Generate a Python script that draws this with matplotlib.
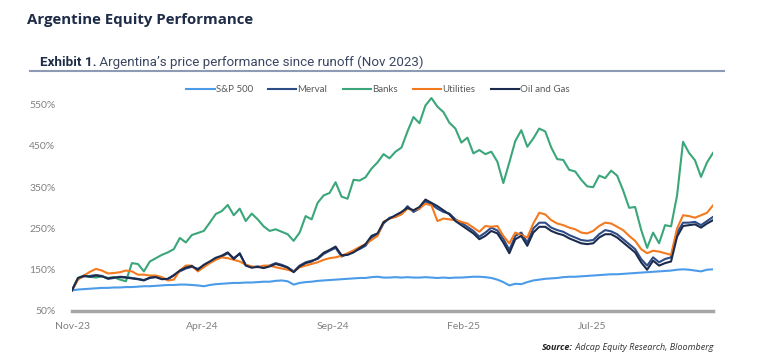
import matplotlib
matplotlib.use("Agg")
import matplotlib.pyplot as plt
import matplotlib.dates as mdates
from matplotlib.lines import Line2D
import pandas as pd

# Weekly observations since the Nov-2023 runoff (index, 100 = start)
start_date = "2023-11-17"

sp500 = [100, 102, 103, 104, 105, 106, 106, 107, 107, 108,
         108, 109, 110, 110, 111, 112, 113, 113, 114, 114,
         113, 112, 110, 113, 115, 116, 117, 118, 118, 119,
         119, 120, 121, 121, 123, 124, 122, 114, 118, 120,
         121, 123, 124, 125, 126, 127, 128, 129, 130, 130,
         132, 133, 131, 131, 132, 131, 132, 131, 131, 132,
         131, 130, 131, 130, 131, 131, 132, 133, 133, 132,
         130, 126, 120, 112, 116, 115, 120, 124, 126, 128,
         129, 130, 132, 133, 133, 134, 135, 136, 137, 138,
         139, 139, 140, 141, 142, 143, 144, 145, 146, 147,
         148, 150, 151, 150, 148, 146, 150, 151]

merval = [101, 128, 134, 135, 137, 135, 128, 130, 133, 132,
          130, 128, 125, 130, 133, 128, 127, 136, 146, 153,
          157, 152, 160, 168, 177, 182, 190, 178, 188, 162,
          156, 158, 155, 160, 166, 162, 156, 146, 160, 168,
          172, 176, 188, 196, 203, 182, 188, 194, 200, 208,
          228, 234, 262, 276, 278, 286, 304, 290, 298, 316,
          308, 298, 290, 286, 272, 264, 254, 244, 230, 240,
          252, 245, 225, 198, 232, 240, 216, 250, 264, 264,
          252, 246, 242, 234, 228, 222, 220, 222, 236, 246,
          243, 236, 224, 212, 200, 176, 160, 180, 168, 176,
          180, 240, 264, 264, 266, 258, 268, 278]

banks = [100, 130, 136, 133, 131, 134, 130, 132, 126, 122,
         166, 164, 146, 170, 178, 186, 192, 200, 227, 216,
         234, 239, 244, 264, 285, 292, 307, 282, 298, 268,
         286, 272, 255, 244, 248, 242, 236, 220, 240, 280,
         272, 312, 330, 336, 362, 327, 322, 368, 366, 374,
         395, 410, 430, 420, 436, 446, 485, 520, 505, 548,
         566, 545, 532, 506, 492, 458, 470, 432, 440, 430,
         436, 412, 360, 410, 462, 488, 448, 468, 492, 485,
         446, 418, 416, 392, 388, 368, 352, 350, 378, 372,
         390, 378, 342, 300, 302, 247, 203, 240, 214, 258,
         255, 330, 460, 433, 415, 375, 410, 433]

utilities = [100, 126, 136, 145, 152, 148, 141, 142, 144, 148,
             146, 138, 138, 136, 136, 132, 124, 126, 148, 160,
             160, 146, 156, 166, 174, 180, 178, 174, 170, 162,
             158, 156, 160, 160, 156, 153, 150, 146, 156, 160,
             164, 168, 174, 178, 180, 184, 190, 197, 205, 212,
             222, 232, 266, 274, 278, 284, 298, 294, 298, 310,
             306, 268, 274, 272, 270, 266, 262, 252, 242, 256,
             254, 256, 232, 214, 240, 234, 228, 262, 288, 284,
             270, 262, 258, 252, 248, 240, 238, 244, 256, 264,
             262, 254, 246, 232, 220, 200, 190, 196, 194, 190,
             186, 250, 282, 280, 276, 282, 288, 306]

oil_gas = [100, 130, 135, 133, 136, 134, 129, 131, 132, 131,
           129, 127, 124, 131, 132, 127, 128, 137, 148, 155,
           159, 150, 162, 170, 179, 184, 192, 176, 190, 160,
           155, 157, 154, 158, 164, 160, 155, 144, 158, 166,
           170, 178, 191, 198, 206, 185, 186, 192, 202, 212,
           232, 238, 265, 274, 282, 290, 300, 294, 302, 320,
           312, 304, 294, 284, 268, 258, 248, 238, 224, 232,
           244, 238, 216, 190, 224, 232, 208, 240, 254, 254,
           244, 238, 234, 226, 220, 214, 212, 214, 228, 236,
           236, 228, 216, 204, 192, 168, 150, 172, 160, 166,
           170, 230, 256, 258, 260, 252, 262, 270]

series_names = ["S&P 500", "Merval", "Banks", "Utilities", "Oil and Gas"]
tick_dates = ["2023-11-17", "2024-04-17", "2024-09-17", "2025-02-17", "2025-07-17"]
y_ticks = [50, 150, 250, 350, 450, 550]

dates = pd.date_range(start_date, periods=len(banks), freq="7D")

colors = {
    "S&P 500": "#4C9BE8",
    "Merval": "#2E4C86",
    "Banks": "#3AA67A",
    "Utilities": "#F47A1F",
    "Oil and Gas": "#1B2B4E",
}
tick_color = "#808080"
navy = "#1F2C47"

fig = plt.figure(figsize=(7.6, 3.6), dpi=100)
ax = fig.add_axes([72 / 760, 1 - 311 / 360, (713 - 72) / 760, (311 - 84) / 360])

values = [sp500, merval, banks, utilities, oil_gas]
for name, vals in zip(series_names, values):
    ax.plot(dates, vals, color=colors[name], linewidth=1.5, label=name)

ax.set_xlim(dates[0], dates[-1])
ax.set_ylim(50, 600)
ax.set_yticks(y_ticks)
ax.set_yticklabels([f"{v}%" for v in y_ticks])
ax.set_xticks(pd.to_datetime(tick_dates))
ax.xaxis.set_major_formatter(mdates.DateFormatter("%b-%y"))

for side in ["top", "right", "left"]:
    ax.spines[side].set_visible(False)
ax.spines["bottom"].set_color("#A6A6A6")
ax.spines["bottom"].set_linewidth(2.5)
ax.tick_params(axis="both", length=0, labelsize=7.5, labelcolor=tick_color)
ax.tick_params(axis="y", pad=12)
ax.tick_params(axis="x", pad=8)
for lbl in ax.get_xticklabels() + ax.get_yticklabels():
    lbl.set_family("Lato")

# legend across the top of the plot
handles, labels = ax.get_legend_handles_labels()
fig.legend(handles, labels, loc="center", bbox_to_anchor=(378 / 760, 1 - 90 / 360),
           ncol=5, frameon=False, handlelength=2.9, handletextpad=0.1,
           columnspacing=1.6, prop={"family": "Lato", "size": 7},
           labelcolor="#595959")

# titles
fig.text(27 / 760, 1 - 20 / 360, "Argentine Equity Performance", fontsize=10.8,
         fontweight="bold", color=navy, family="Open Sans", va="center")
t1 = fig.text(40 / 760, 1 - 62 / 360, "Exhibit 1.", fontsize=9.6, fontweight="bold",
              color=navy, family="Roboto", va="center")
ax.annotate(" Argentina\u2019s price performance since runoff (Nov 2023)",
            xy=(1, 0.5), xycoords=t1, va="center", ha="left", fontsize=9.6,
            color="#3A4660", family="Roboto", annotation_clip=False)
fig.add_artist(Line2D([30 / 760, 724 / 760], [1 - 71 / 360, 1 - 71 / 360],
                      transform=fig.transFigure, color="#8C9AB3", linewidth=1.5))

# source note
t_src = fig.text(713 / 760, 1 - 347 / 360, " Adcap Equity Research, Bloomberg",
                 fontsize=6.5, style="italic", color="#333333", family="Open Sans",
                 ha="right", va="center")
ax.annotate("Source:", xy=(0, 0.5), xycoords=t_src, ha="right", va="center",
            fontsize=6.5, style="italic", fontweight="bold", color="#222222",
            family="Open Sans", annotation_clip=False)

fig.savefig("out.png", dpi=100, facecolor="white")
